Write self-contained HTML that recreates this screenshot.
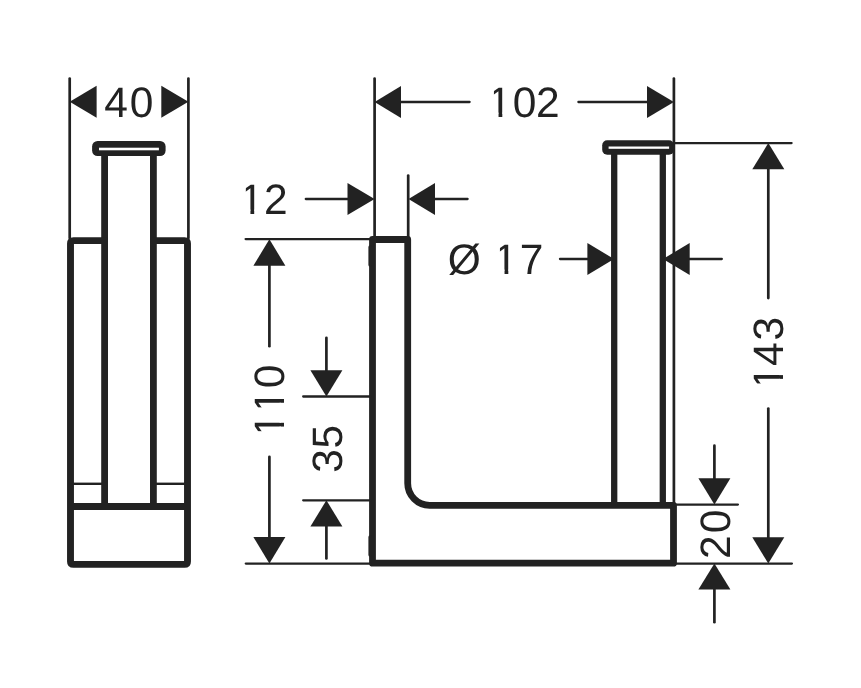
<!DOCTYPE html>
<html lang="en">
<head>
<meta charset="utf-8">
<title>Dimensional drawing</title>
<style>
html,body{margin:0;padding:0;background:#fff;}
body{width:861px;height:688px;overflow:hidden;}
svg{display:block;will-change:transform;}
text{font-family:"Liberation Sans",sans-serif;text-rendering:geometricPrecision;}
</style>
</head>
<body>
<svg width="861" height="688" viewBox="0 0 861 688">
<rect width="861" height="688" fill="#fff"/>
<g fill="none" stroke="#222" stroke-linecap="round">
<line x1="69.7" y1="78.5" x2="69.7" y2="238.0" stroke-width="2.7"/>
<line x1="188.4" y1="78.5" x2="188.4" y2="238.0" stroke-width="2.7"/>
<line x1="104.6" y1="152.0" x2="104.6" y2="506.5" stroke-width="6.8" stroke-linecap="butt"/>
<line x1="153.4" y1="152.0" x2="153.4" y2="506.5" stroke-width="6.8" stroke-linecap="butt"/>
<path d="M104.6 240.6 H73.5 Q70.5 240.6 70.5 243.6 V561.4 Q70.5 564.4 73.5 564.4 H184.5 Q187.5 564.4 187.5 561.4 V243.6 Q187.5 240.6 184.5 240.6 H153.4" stroke-width="6.9"/>
<line x1="70.5" y1="506.5" x2="187.5" y2="506.5" stroke-width="6.9" stroke-linecap="butt"/>
<line x1="72.0" y1="483.8" x2="103.0" y2="483.8" stroke-width="2.4" stroke-linecap="butt"/>
<line x1="155.0" y1="483.8" x2="186.0" y2="483.8" stroke-width="2.4" stroke-linecap="butt"/>
<line x1="374.6" y1="78.5" x2="374.6" y2="238.0" stroke-width="2.7"/>
<line x1="673.9" y1="78.5" x2="673.9" y2="505.0" stroke-width="2.7"/>
<line x1="408.2" y1="175.5" x2="408.2" y2="238.0" stroke-width="2.7"/>
<line x1="400.0" y1="102.0" x2="469.6" y2="102.0" stroke-width="2.3"/>
<line x1="578.4" y1="102.0" x2="648.0" y2="102.0" stroke-width="2.3"/>
<line x1="305.8" y1="199.0" x2="348.5" y2="199.0" stroke-width="2.3"/>
<line x1="434.0" y1="199.0" x2="467.6" y2="199.0" stroke-width="2.3"/>
<path d="M372.5 239.5 H407.7 V483.3 A22 22 0 0 0 429.7 505.3 H673.5 V563.2 H372.5 Z" stroke-width="6.8" stroke-linejoin="round"/>
<line x1="370.2" y1="247.0" x2="370.2" y2="265.0" stroke-width="3.6" stroke-linecap="round"/>
<line x1="370.2" y1="537.0" x2="370.2" y2="555.0" stroke-width="3.6" stroke-linecap="round"/>
<line x1="614.2" y1="151.0" x2="614.2" y2="505.0" stroke-width="6.3" stroke-linecap="butt"/>
<line x1="662.8" y1="151.0" x2="662.8" y2="505.0" stroke-width="6.3" stroke-linecap="butt"/>
<line x1="560.0" y1="259.0" x2="588.4" y2="259.0" stroke-width="2.3"/>
<line x1="688.7" y1="259.0" x2="721.8" y2="259.0" stroke-width="2.3"/>
<line x1="674.0" y1="143.1" x2="791.6" y2="143.1" stroke-width="2.3"/>
<line x1="676.0" y1="563.6" x2="791.9" y2="563.6" stroke-width="2.3"/>
<line x1="768.3" y1="168.3" x2="768.3" y2="298.1" stroke-width="2.7"/>
<line x1="768.3" y1="408.6" x2="768.3" y2="538.3" stroke-width="2.7"/>
<line x1="245.6" y1="239.1" x2="370.0" y2="239.1" stroke-width="2.3"/>
<line x1="245.8" y1="563.6" x2="370.0" y2="563.6" stroke-width="2.3"/>
<line x1="269.4" y1="264.7" x2="269.4" y2="346.2" stroke-width="2.7"/>
<line x1="269.4" y1="456.8" x2="269.4" y2="538.1" stroke-width="2.7"/>
<line x1="303.2" y1="396.5" x2="370.0" y2="396.5" stroke-width="2.3"/>
<line x1="303.2" y1="500.3" x2="370.0" y2="500.3" stroke-width="2.3"/>
<line x1="326.4" y1="337.8" x2="326.4" y2="371.3" stroke-width="2.7"/>
<line x1="326.4" y1="525.5" x2="326.4" y2="558.4" stroke-width="2.7"/>
<line x1="676.0" y1="504.6" x2="737.9" y2="504.6" stroke-width="2.3"/>
<line x1="714.4" y1="445.7" x2="714.4" y2="479.3" stroke-width="2.7"/>
<line x1="714.4" y1="588.6" x2="714.4" y2="622.2" stroke-width="2.7"/>
</g>
<g fill="#222" stroke="none">
<rect x="92.1" y="141" width="73.5" height="15" rx="5.5"/>
<rect x="99" y="147.7" width="59.9" height="2.6" fill="#fff"/>
<rect x="602.2" y="140.2" width="71.8" height="14.5" rx="5"/>
<rect x="608.6" y="146.5" width="60.5" height="2.3" fill="#fff"/>
<polygon points="69.7,101.8 96.6,85.8 96.6,117.8"/>
<polygon points="188.4,101.8 161.3,85.8 161.3,117.8"/>
<polygon points="374.6,101.9 401.0,85.9 401.0,117.9"/>
<polygon points="673.9,101.9 647.0,85.9 647.0,117.9"/>
<polygon points="374.6,199.0 347.5,183.0 347.5,215.0"/>
<polygon points="408.5,199.0 435.0,183.0 435.0,215.0"/>
<polygon points="614.0,259.0 587.4,243.0 587.4,275.0"/>
<polygon points="663.0,259.0 689.7,243.0 689.7,275.0"/>
<polygon points="768.3,143.1 752.3,169.3 784.3,169.3"/>
<polygon points="768.3,563.6 752.3,537.3 784.3,537.3"/>
<polygon points="269.4,239.3 253.4,265.7 285.4,265.7"/>
<polygon points="269.4,563.6 253.4,537.1 285.4,537.1"/>
<polygon points="326.4,396.5 310.4,370.3 342.4,370.3"/>
<polygon points="326.4,500.3 310.4,526.5 342.4,526.5"/>
<polygon points="714.4,504.5 698.4,478.3 730.4,478.3"/>
<polygon points="714.4,563.6 698.4,589.6 730.4,589.6"/>
</g>
<g fill="#222" stroke="none" font-family="&quot;Liberation Sans&quot;, sans-serif" font-size="42.5">
<text id="t40" x="104.27 129.73" y="117.0">40</text>
<text id="t102" x="487.86 512.73 536.08" y="117.0">102</text>
<rect x="489.59" y="112.62" width="8.95" height="5.78" fill="#fff"/>
<rect x="502.30" y="112.62" width="8.62" height="5.78" fill="#fff"/>
<rect x="489.59" y="86.26" width="4.35" height="30.24" fill="#fff"/>
<text id="t12" x="239.76 263.98" y="214.0">12</text>
<rect x="241.49" y="209.62" width="8.95" height="5.78" fill="#fff"/>
<rect x="254.20" y="209.62" width="8.62" height="5.78" fill="#fff"/>
<rect x="241.49" y="183.26" width="4.35" height="30.24" fill="#fff"/>
<text id="t17" x="447.85 482.05 493.86 519.66" y="274.0">Ø 17</text>
<rect x="495.59" y="269.62" width="8.95" height="5.78" fill="#fff"/>
<rect x="508.30" y="269.62" width="8.62" height="5.78" fill="#fff"/>
<rect x="495.59" y="243.26" width="4.35" height="30.24" fill="#fff"/>
<g transform="translate(783.4 0) rotate(-90)">
<text id="t143" x="-389.54 -365.98 -340.44" y="0">143</text>
<rect x="-387.81" y="-4.38" width="8.95" height="5.78" fill="#fff"/>
<rect x="-375.10" y="-4.38" width="8.62" height="5.78" fill="#fff"/>
<rect x="-387.81" y="-30.74" width="4.35" height="30.24" fill="#fff"/>
</g>
<g transform="translate(284.0 0) rotate(-90)">
<text id="t110" x="-437.24 -413.44 -388.27" y="0">110</text>
<rect x="-435.51" y="-4.38" width="8.95" height="5.78" fill="#fff"/>
<rect x="-422.80" y="-4.38" width="8.62" height="5.78" fill="#fff"/>
<rect x="-435.51" y="-30.74" width="4.35" height="30.24" fill="#fff"/>
<rect x="-411.71" y="-4.38" width="8.95" height="5.78" fill="#fff"/>
<rect x="-399.00" y="-4.38" width="8.62" height="5.78" fill="#fff"/>
<rect x="-411.71" y="-30.74" width="4.35" height="30.24" fill="#fff"/>
</g>
<g transform="translate(342.4 0) rotate(-90)">
<text id="t35" x="-472.79 -448.53" y="0">35</text>
</g>
<g transform="translate(730.3 0) rotate(-90)">
<text id="t20" x="-559.02 -533.32" y="0">20</text>
</g>
</g>
</svg>
</body>
</html>
